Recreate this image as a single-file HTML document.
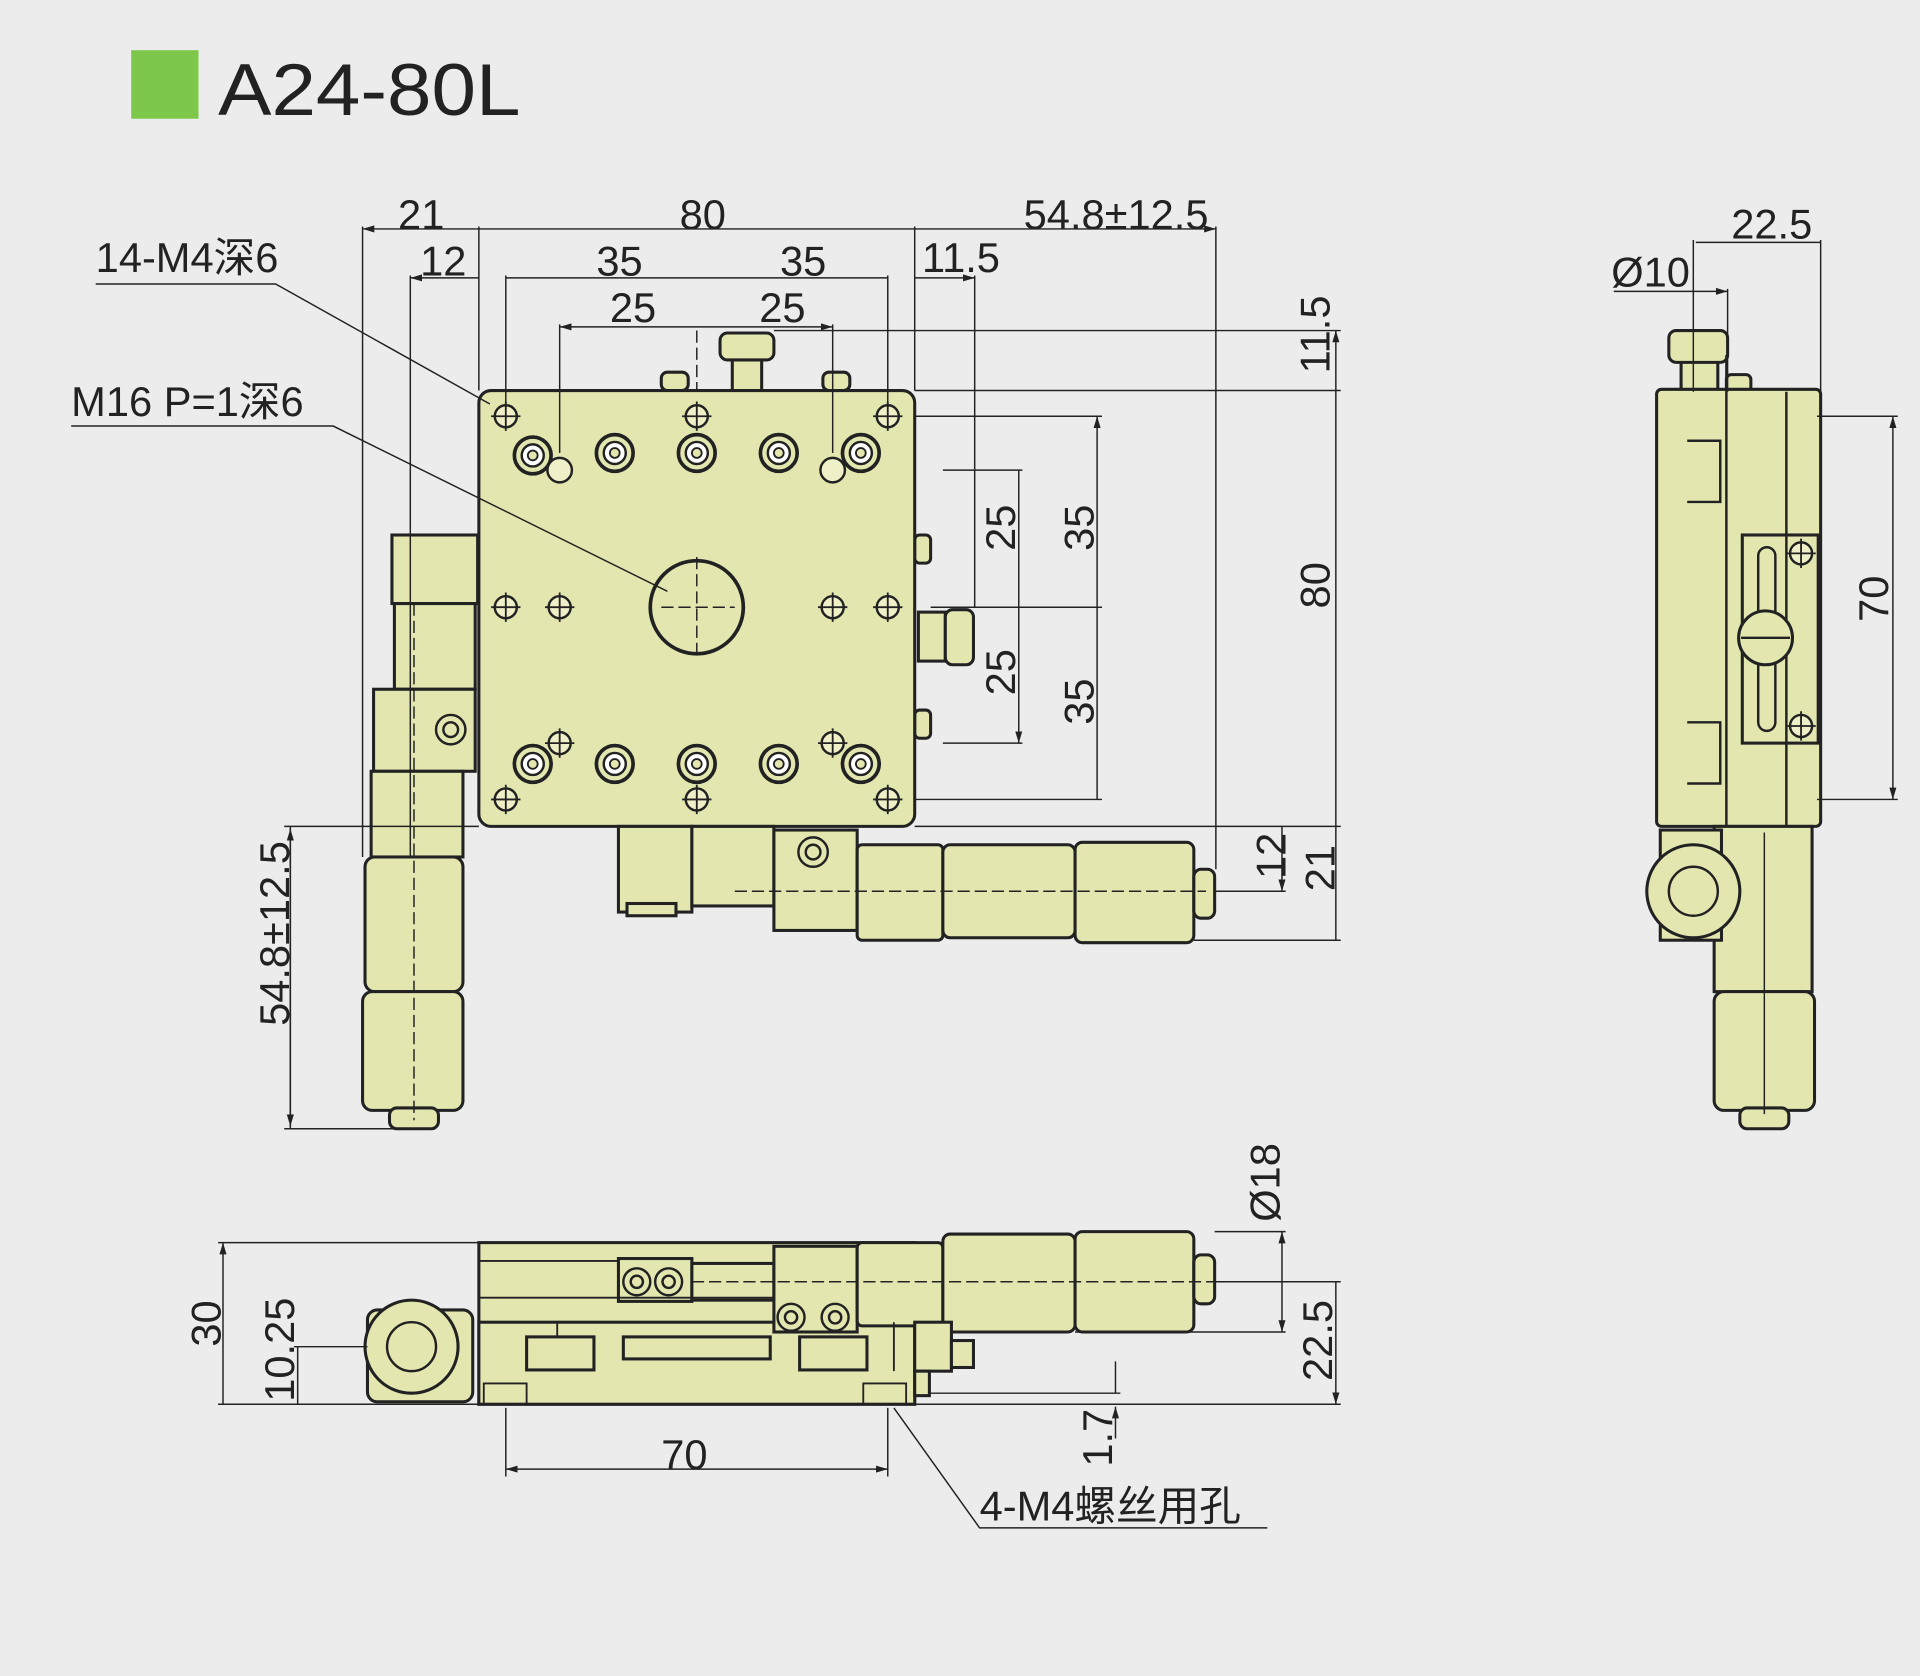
<!DOCTYPE html>
<html><head><meta charset="utf-8"><style>
html,body{margin:0;padding:0;background:#ececec;}
svg{display:block;}
text{font-family:"Liberation Sans","Noto Sans CJK SC",sans-serif;fill:#222;}
</style></head><body>
<svg width="1920" height="1676" viewBox="0 0 1568 1369" xmlns="http://www.w3.org/2000/svg">
<rect width="1568" height="1369" fill="#ececec"/>
<defs>
<marker id="a" viewBox="0 0 10 10" refX="10" refY="5" markerWidth="8" markerHeight="8" orient="auto-start-reverse"><path d="M0,2 L10,5 L0,8z" fill="#222"/></marker>
<g id="ch"><circle r="9" fill="#f0f0c8" stroke="#222" stroke-width="2"/><path d="M-12,0H12M0,-12V12" stroke="#222" stroke-width="1.5"/></g>
<g id="cb"><circle r="15" fill="#e4e6b0" stroke="#222" stroke-width="3"/><circle r="9" fill="#fff" stroke="#222" stroke-width="2"/><circle r="4" fill="#e4e6b0" stroke="#222" stroke-width="1.5"/></g>
</defs>
<!-- title -->
<rect x="107" y="41" width="55" height="56" fill="#7dc84a"/>
<text x="178" y="94" font-size="60" textLength="247" lengthAdjust="spacingAndGlyphs">A24-80L</text>

<g stroke="#222" stroke-width="2.5" fill="#e4e6b0">
<!-- top view -->
<rect x="540" y="304" width="22" height="15" rx="5"/>
<rect x="672" y="304" width="22" height="15" rx="5"/>
<rect x="598" y="290" width="24" height="29"/>
<rect x="588" y="272" width="44" height="22" rx="6"/>
<rect x="320" y="437" width="70" height="56"/>
<rect x="322" y="493" width="66" height="70"/>
<rect x="305" y="563" width="83" height="67"/>
<rect x="303" y="630" width="75" height="70"/>
<rect x="298" y="700" width="80" height="110" rx="8"/>
<rect x="296" y="810" width="82" height="97" rx="8"/>
<rect x="318" y="905" width="40" height="17" rx="6"/>
<rect x="747" y="437" width="13" height="23" rx="4"/>
<rect x="747" y="580" width="13" height="23" rx="4"/>
<rect x="750" y="500" width="22" height="40"/>
<rect x="772" y="498" width="23" height="45" rx="6"/>
<rect x="391" y="319" width="356" height="356" rx="10"/>
<rect x="505" y="675" width="60" height="70"/>
<rect x="512" y="738" width="40" height="10"/>
<rect x="565" y="675" width="67" height="65"/>
<rect x="632" y="678" width="68" height="82"/>
<rect x="700" y="690" width="70" height="78" rx="4"/>
<rect x="770" y="690" width="108" height="76" rx="6"/>
<rect x="878" y="688" width="97" height="82" rx="6"/>
<rect x="975" y="710" width="17" height="40" rx="6"/>
</g>
<circle cx="368" cy="596" r="12" fill="#e4e6b0" stroke="#222" stroke-width="2"/><circle cx="368" cy="596" r="6" fill="none" stroke="#222" stroke-width="2"/>
<circle cx="664" cy="696" r="12" fill="#e4e6b0" stroke="#222" stroke-width="2"/><circle cx="664" cy="696" r="6" fill="none" stroke="#222" stroke-width="2"/>
<g>
<use href="#ch" x="413" y="340"/><use href="#ch" x="725" y="340"/><use href="#ch" x="569" y="340"/>
<use href="#ch" x="413" y="653"/><use href="#ch" x="725" y="653"/><use href="#ch" x="569" y="653"/>
<use href="#ch" x="413" y="496"/><use href="#ch" x="457" y="496"/><use href="#ch" x="680" y="496"/><use href="#ch" x="725" y="496"/>
<use href="#ch" x="457" y="607"/><use href="#ch" x="680" y="607"/>
<use href="#cb" x="435" y="372"/><use href="#cb" x="502" y="370"/><use href="#cb" x="569" y="370"/><use href="#cb" x="636" y="370"/><use href="#cb" x="703" y="370"/>
<use href="#cb" x="435" y="624"/><use href="#cb" x="502" y="624"/><use href="#cb" x="569" y="624"/><use href="#cb" x="636" y="624"/><use href="#cb" x="703" y="624"/>
</g>
<circle cx="457" cy="384" r="10" fill="#f0f0c8" stroke="#222" stroke-width="2"/>
<circle cx="680" cy="384" r="10" fill="#f0f0c8" stroke="#222" stroke-width="2"/>
<circle cx="569" cy="496" r="38" fill="#e4e6b0" stroke="#222" stroke-width="3"/>
<g stroke="#222" stroke-width="1.2" stroke-dasharray="10,4" fill="none">
<path d="M338,493V915M569,270V320M569,455V537M540,496H600M600,728H985"/>
</g>

<!-- dimension lines top view -->
<g stroke="#222" stroke-width="1.2" fill="none">
<path d="M296,185V700M391,185V319M747,185V319M993,185V710M335,225V700M413,225V330M725,225V330M457,265V370M680,265V370M796,225V496"/>
<path d="M296,187H391M391,187H747M747,187H993" marker-start="url(#a)" marker-end="url(#a)"/>
<path d="M335,227H391M413,227H569M569,227H725M747,227H796" marker-start="url(#a)" marker-end="url(#a)"/>
<path d="M457,267H569M569,267H680" marker-start="url(#a)" marker-end="url(#a)"/>
<path d="M632,270H1095M747,319H1095M747,340H900M747,653H900M747,675H1095M992,728H1050M975,768H1095M760,496H900M770,607H835M770,384H835"/>
<path d="M1091,270V319M1091,319V675M1091,675V768M1047,675V728" marker-start="url(#a)" marker-end="url(#a)"/>
<path d="M896,340V496M896,496V653M832,384V496M832,496V607" marker-start="url(#a)" marker-end="url(#a)"/>
<path d="M232,675H391M232,922H338M237,675V922" />
<path d="M237,677V920" marker-start="url(#a)" marker-end="url(#a)"/>
<path d="M78,232H225L400,330M58,348H272L545,483"/>
</g>
<g font-size="34">
<text x="325" y="187">21</text><text x="555" y="187">80</text><text x="836" y="187">54.8±12.5</text>
<text x="343" y="225">12</text><text x="487" y="225">35</text><text x="637" y="225">35</text><text x="753" y="222">11.5</text>
<text x="498" y="263">25</text><text x="620" y="263">25</text>
<text x="78" y="222">14-M4深6</text><text x="58" y="340">M16 P=1深6</text>
<text transform="translate(1086,305) rotate(-90)">11.5</text>
<text transform="translate(1086,497) rotate(-90)">80</text>
<text transform="translate(893,450) rotate(-90)">35</text>
<text transform="translate(893,592) rotate(-90)">35</text>
<text transform="translate(829,450) rotate(-90)">25</text>
<text transform="translate(829,568) rotate(-90)">25</text>
<text transform="translate(1050,718) rotate(-90)">12</text>
<text transform="translate(1090,728) rotate(-90)">21</text>
<text transform="translate(236,838) rotate(-90)">54.8±12.5</text>
</g>

<!-- side view -->
<g stroke="#222" stroke-width="2.5" fill="#e4e6b0">
<rect x="1373" y="290" width="30" height="30"/>
<rect x="1363" y="270" width="48" height="26" rx="6"/>
<rect x="1410" y="306" width="20" height="14" rx="4"/>
<rect x="1353" y="318" width="134" height="357" rx="4"/>
<rect x="1423" y="437" width="62" height="170"/>
<rect x="1400" y="675" width="80" height="135"/>
<rect x="1400" y="810" width="82" height="97" rx="8"/>
<rect x="1421" y="905" width="40" height="17" rx="6"/>
<rect x="1356" y="678" width="50" height="90"/>
</g>
<path d="M1378,360H1405V410H1378M1378,590H1405V640H1378M1459,320V675M1410,290V675" stroke="#222" stroke-width="2" fill="none"/>
<rect x="1436" y="447" width="14" height="150" rx="7" fill="none" stroke="#222" stroke-width="2"/>
<circle cx="1442" cy="521" r="22" fill="#e4e6b0" stroke="#222" stroke-width="2.5"/>
<path d="M1422,521H1462" stroke="#222" stroke-width="2"/>
<use href="#ch" x="1471" y="452"/><use href="#ch" x="1471" y="593"/>
<circle cx="1383" cy="728" r="38" fill="#e4e6b0" stroke="#222" stroke-width="2.5"/>
<circle cx="1383" cy="728" r="20" fill="#e4e6b0" stroke="#222" stroke-width="2"/>
<g stroke="#222" stroke-width="1.2" fill="none">
<path d="M1383,196V320M1411,236V320M1487,196V320M1484,340H1550M1484,653H1550M1441,680V910"/>
<path d="M1385,198H1487M1318,238H1411" marker-end="url(#a)"/>
<path d="M1546,340V653" marker-start="url(#a)" marker-end="url(#a)"/>
</g>
<g font-size="34"><text x="1414" y="195">22.5</text><text x="1316" y="234">Ø10</text>
<text transform="translate(1542,508) rotate(-90)">70</text></g>

<!-- bottom view -->
<g stroke="#222" stroke-width="2.5" fill="#e4e6b0">
<rect x="391" y="1015" width="356" height="132"/>
<rect x="391" y="1080" width="356" height="67"/>
<rect x="505" y="1028" width="60" height="35"/>
<rect x="565" y="1032" width="67" height="30"/>
<rect x="632" y="1018" width="68" height="70"/>
<rect x="700" y="1015" width="70" height="68" rx="4"/>
<rect x="770" y="1008" width="108" height="80" rx="6"/>
<rect x="878" y="1006" width="97" height="82" rx="6"/>
<rect x="975" y="1025" width="17" height="40" rx="6"/>
<rect x="430" y="1092" width="55" height="27"/>
<rect x="509" y="1092" width="120" height="18"/>
<rect x="653" y="1092" width="55" height="27"/>
<rect x="747" y="1080" width="30" height="40"/>
<rect x="777" y="1095" width="18" height="22"/>
<rect x="747" y="1120" width="12" height="20"/>
<rect x="300" y="1070" width="86" height="75" rx="8"/>
</g>
<path d="M391,1030H505M391,1060H632M455,1080V1092M730,1080V1120M395,1147V1130H430V1147M705,1147V1130H740V1147" stroke="#222" stroke-width="1.5" fill="none"/>
<circle cx="336" cy="1100" r="38" fill="#e4e6b0" stroke="#222" stroke-width="2.5"/>
<circle cx="336" cy="1100" r="20" fill="#e4e6b0" stroke="#222" stroke-width="2"/>
<circle cx="520" cy="1047" r="11" fill="none" stroke="#222" stroke-width="2"/><circle cx="520" cy="1047" r="5" fill="none" stroke="#222" stroke-width="2"/>
<circle cx="546" cy="1047" r="11" fill="none" stroke="#222" stroke-width="2"/><circle cx="546" cy="1047" r="5" fill="none" stroke="#222" stroke-width="2"/>
<circle cx="646" cy="1076" r="11" fill="none" stroke="#222" stroke-width="2"/><circle cx="646" cy="1076" r="5" fill="none" stroke="#222" stroke-width="2"/>
<circle cx="682" cy="1076" r="11" fill="none" stroke="#222" stroke-width="2"/><circle cx="682" cy="1076" r="5" fill="none" stroke="#222" stroke-width="2"/>
<path d="M565,1047H985" stroke="#222" stroke-width="1.2" stroke-dasharray="10,4"/>
<g stroke="#222" stroke-width="1.2" fill="none">
<path d="M178,1015H391M178,1147H1095M240,1100H300M992,1006H1050M985,1047H1095M878,1088H1050M760,1138H915"/>
<path d="M182,1015V1147M243,1100V1147M1091,1047V1147" marker-start="url(#a)" marker-end="url(#a)"/>
<path d="M1047,1006V1088" marker-start="url(#a)" marker-end="url(#a)"/>
<path d="M911,1112V1138M911,1175V1149" marker-end="url(#a)"/>
<path d="M413,1150V1206M725,1150V1206"/>
<path d="M413,1200H725" marker-start="url(#a)" marker-end="url(#a)"/>
<path d="M730,1150L800,1248H1035"/>
</g>
<g font-size="34">
<text transform="translate(180,1100) rotate(-90)">30</text>
<text transform="translate(240,1145) rotate(-90)">10.25</text>
<text transform="translate(1045,998) rotate(-90)">Ø18</text>
<text transform="translate(1088,1128) rotate(-90)">22.5</text>
<text transform="translate(908,1198) rotate(-90)">1.7</text>
<text x="540" y="1200">70</text>
<text x="800" y="1242">4-M4螺丝用孔</text>
</g>
</svg>
</body></html>
